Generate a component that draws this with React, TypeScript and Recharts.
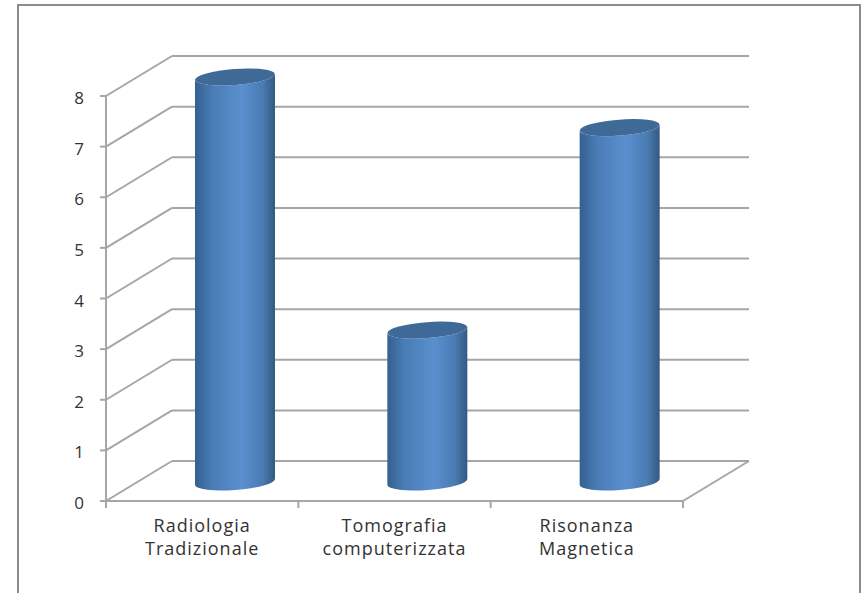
import { BarChart, Bar, XAxis, YAxis, CartesianGrid } from 'recharts';

const categories = [['Radiologia', 'Tradizionale'], ['Tomografia', 'computerizzata'], ['Risonanza', 'Magnetica']];
const values = [8, 3, 7];
const yTicks = [0, 1, 2, 3, 4, 5, 6, 7, 8];

const data = categories.map((lines, i) => ({ name: lines.join(' '), value: values[i] }));

// 3D look: back wall sits this far from the front axes
const DEPTH_X = 66;
const DEPTH_Y = 40;
const AXIS_COLOR = '#a6a6a6';
const FONT = '"Open Sans", sans-serif';

function GridLine(props: any) {
    const { x1, x2, y1, index } = props;
    const isFloor = index === 0 || y1 === props.floorY;
    return (
        <g key={`grid-${index}`}>
            <line x1={x1} y1={y1} x2={x1 + DEPTH_X} y2={y1 - DEPTH_Y} stroke={AXIS_COLOR} strokeWidth={2} />
            <line x1={x1 + DEPTH_X} y1={y1 - DEPTH_Y} x2={x2 + DEPTH_X} y2={y1 - DEPTH_Y} stroke={AXIS_COLOR} strokeWidth={2} />
            {isFloor && <line x1={x2} y1={y1} x2={x2 + DEPTH_X} y2={y1 - DEPTH_Y} stroke={AXIS_COLOR} strokeWidth={2} />}
        </g>
    );
}

function Cylinder(props: any) {
    const { x, y, width, height } = props;
    const rx = width / 2;
    const ry = 8;
    const tilt = -4.3;
    const rise = rx * Math.tan((-tilt * Math.PI) / 180);
    const left = x + DEPTH_X / 2;
    const right = left + width;
    const cx = left + rx;
    const top = y - DEPTH_Y / 2 + 1;
    const base = top + height;
    const body = `M${left},${top + rise} L${left},${base + rise} A${rx},${ry} ${tilt} 0 0 ${right},${base - rise} L${right},${top - rise} A${rx},${ry} ${tilt} 0 1 ${left},${top + rise} Z`;
    return (
        <g>
            <path d={body} fill="url(#cylinderFill)" />
            <ellipse cx={cx} cy={top} rx={rx} ry={ry} transform={`rotate(${tilt} ${cx} ${top})`} fill="#3f6997" />
        </g>
    );
}

function CategoryTick(props: any) {
    const { x, y, index, width } = props;
    const band = width / categories.length;
    const lines = categories[index];
    return (
        <g>
            <line x1={x - band / 2} y1={y - 8} x2={x - band / 2} y2={y - 1} stroke={AXIS_COLOR} strokeWidth={2} />
            {index === categories.length - 1 && (
                <line x1={x + band / 2} y1={y - 8} x2={x + band / 2} y2={y - 1} stroke={AXIS_COLOR} strokeWidth={2} />
            )}
            <text x={x} y={y + 23} textAnchor="middle" fontFamily={FONT} fontSize={18} letterSpacing={1} fill="#333">{lines[0]}</text>
            <text x={x} y={y + 46} textAnchor="middle" fontFamily={FONT} fontSize={18} letterSpacing={1} fill="#333">{lines[1]}</text>
        </g>
    );
}

export default function App() {
    return (
        <div style={{ position: 'absolute', left: 0, top: 0, width: 865, height: 593, background: '#fff', overflow: 'hidden' }}>
            <div style={{ position: 'absolute', left: 17, top: 4, width: 840, height: 620, border: '2px solid #8c8c8c' }} />
            <div style={{ position: 'absolute', left: 0, top: 0 }}>
                <BarChart width={865} height={593} data={data} margin={{ top: 96, right: 182, bottom: 32, left: 46 }} barSize={80}>
                    <defs>
                        <linearGradient id="cylinderFill" x1="0" y1="0" x2="1" y2="0">
                            <stop offset="0%" stopColor="#34608f" />
                            <stop offset="22%" stopColor="#4a7db6" />
                            <stop offset="58%" stopColor="#5a8fcf" />
                            <stop offset="84%" stopColor="#4a7cb4" />
                            <stop offset="100%" stopColor="#335a82" />
                        </linearGradient>
                    </defs>
                    <CartesianGrid
                        vertical={false}
                        horizontal={(p: any) => <GridLine {...p} floorY={501} />}
                    />
                    <XAxis
                        dataKey="name"
                        height={60}
                        interval={0}
                        axisLine={{ stroke: AXIS_COLOR, strokeWidth: 2 }}
                        tickLine={false}
                        tick={<CategoryTick />}
                    />
                    <YAxis
                        width={60}
                        domain={[0, 8]}
                        ticks={yTicks}
                        interval={0}
                        axisLine={{ stroke: AXIS_COLOR, strokeWidth: 2 }}
                        tickLine={{ stroke: AXIS_COLOR, strokeWidth: 2 }}
                        tickSize={6}
                        tickMargin={16}
                        tick={{ fontFamily: FONT, fontSize: 17, fill: '#333', dy: 2 }}
                    />
                    <Bar dataKey="value" shape={<Cylinder />} isAnimationActive={false} />
                </BarChart>
            </div>
        </div>
    );
}
